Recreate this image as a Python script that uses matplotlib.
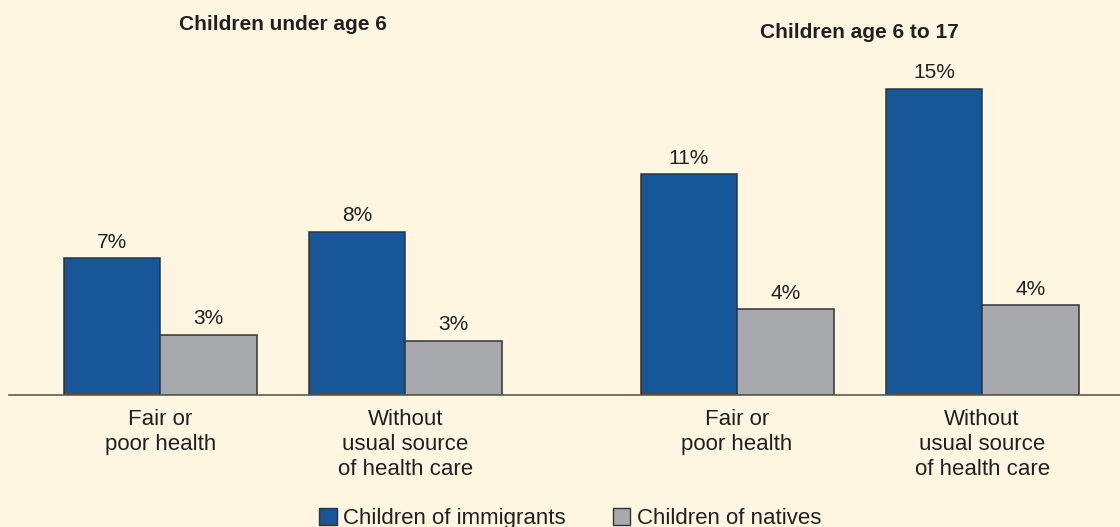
import matplotlib.pyplot as plt
import matplotlib.patches as patches
from matplotlib.transforms import blended_transform_factory
import numpy as np

plt.rcParams['font.family'] = ['Liberation Sans', 'DejaVu Sans']

# Data
sections = ['Children under age 6', 'Children age 6 to 17']
categories = ['Fair or\npoor health', 'Without\nusual source\nof health care',
              'Fair or\npoor health', 'Without\nusual source\nof health care']
immigrants = [6.7, 8.0, 10.8, 15.0]
natives = [2.95, 2.65, 4.2, 4.4]
series_names = ['Children of immigrants', 'Children of natives']

blue = '#185797'
gray = '#a8a9ad'
edge = '#333333'
bg = '#fff6e2'
text_color = '#231f20'

fig = plt.figure(figsize=(11.2, 5.27), dpi=100, facecolor=bg)
ax = fig.add_axes([9 / 1120, 132 / 527, 1 - 9 / 1120, 395 / 527])
ax.set_facecolor(bg)

# group centres: two pairs, wider gap between the sections
x = np.array([0.0, 1.0, 2.354, 3.354])
width = 0.394

b1 = ax.bar(x - width / 2, immigrants, width, color=blue, edgecolor=edge, linewidth=1.1)
b2 = ax.bar(x + width / 2, natives, width, color=gray, edgecolor=edge, linewidth=1.1)

for bars, vals in ((b1, immigrants), (b2, natives)):
    for rect, v in zip(bars, vals):
        ax.annotate(f'{v:.0f}%', (rect.get_x() + rect.get_width() / 2, v),
                    xytext=(0, 7.5), textcoords='offset points',
                    ha='center', va='baseline', fontsize=15, color=text_color)

ax.set_xlim(-0.618, 3.917)
ax.set_ylim(0, 395 / 20.42)

ax.set_xticks(x, categories, fontsize=16, color=text_color, linespacing=1.24)
ax.tick_params(axis='x', length=0, pad=10)
ax.set_yticks([])
for side in ('top', 'right', 'left'):
    ax.spines[side].set_visible(False)
ax.spines['bottom'].set_color('#5f5a55')
ax.spines['bottom'].set_linewidth(1.2)

# section titles, centred over each pair of groups
trans = blended_transform_factory(ax.transData, fig.transFigure)
ax.text(x[:2].mean(), 1 - 24 / 527, sections[0], transform=trans,
        ha='center', va='center', fontsize=15, fontweight='bold', color=text_color)
ax.text(x[2:].mean(), 1 - 32 / 527, sections[1], transform=trans,
        ha='center', va='center', fontsize=15, fontweight='bold', color=text_color)

# Legend
handles = [patches.Patch(facecolor=blue, edgecolor=edge, label=series_names[0]),
           patches.Patch(facecolor=gray, edgecolor=edge, label=series_names[1])]
fig.legend(handles=handles, loc='center', bbox_to_anchor=(0.509, 0.016), ncol=2,
           frameon=False, fontsize=16, handlelength=0.8, handleheight=0.8,
           handletextpad=0.3, columnspacing=2.1, labelcolor=text_color)

fig.savefig('out.png', dpi=100, facecolor=bg)
